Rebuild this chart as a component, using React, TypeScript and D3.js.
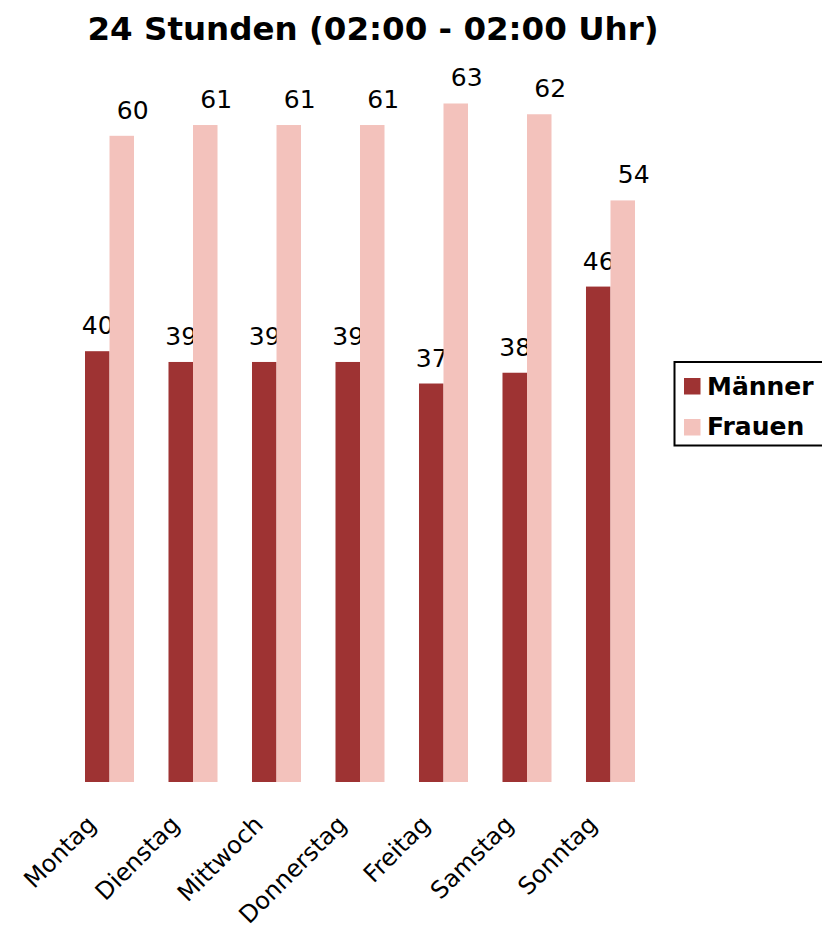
import React from "react";
import * as d3 from "d3";

const categories = ["Montag", "Dienstag", "Mittwoch", "Donnerstag", "Freitag", "Samstag", "Sonntag"];
const maenner = [40, 39, 39, 39, 37, 38, 46];
const frauen = [60, 61, 61, 61, 63, 62, 54];
const seriesNames = ["Männer", "Frauen"];
const seriesColors = ["#9e3333", "#f3c2bc"];
const title = "24 Stunden (02:00 - 02:00 Uhr)";

const W = 822;
const H = 929;
const FONT = "DejaVu Sans, Verdana, sans-serif";

export default function App() {
  const x = d3.scaleBand<string>().domain(categories).range([85, 635]).paddingInner(0.413).paddingOuter(0);
  const y = d3.scaleLinear().domain([0, 70]).range([782, 782 - 70 * 10.77]);
  const sub = d3.scaleBand<string>().domain(seriesNames).range([0, x.bandwidth()]);
  const data = [maenner, frauen];
  const labelDx = [0.5, 11];

  return (
    <svg width={W} height={H} style={{ position: "absolute", left: 0, top: 0, background: "#fff" }} fontFamily={FONT}>
      <text x={373} y={40} textAnchor="middle" fontSize={32.5} fontWeight="bold" fill="#000">{title}</text>
      {categories.map((c, i) => (
        <g key={c}>
          {seriesNames.map((s, si) => {
            const v = data[si][i];
            const bx = (x(c) as number) + (sub(s) as number);
            const bw = sub.bandwidth();
            return (
              <g key={s}>
                <rect x={bx} y={y(v)} width={bw} height={y(0) - y(v)} fill={seriesColors[si]} />
                <text x={bx + bw / 2 + labelDx[si]} y={y(v) - 17} textAnchor="middle" fontSize={25} fill="#000">{v}</text>
              </g>
            );
          })}
          <text
            transform={`translate(${(x(c) as number) + x.bandwidth() / 2 - 12},826) rotate(-45)`}
            textAnchor="end"
            fontSize={24}
            fill="#000"
          >{c}</text>
        </g>
      ))}
      <g>
        <rect x={674.5} y={362} width={170} height={83.5} fill="#fff" stroke="#000" strokeWidth={2} />
        {seriesNames.map((s, si) => (
          <g key={s}>
            <rect x={684} y={378 + si * 41} width={16.5} height={16.5} fill={seriesColors[si]} />
            <text x={707} y={395 + si * 40} fontSize={25} fontWeight="bold" fill="#000">{s}</text>
          </g>
        ))}
      </g>
    </svg>
  );
}
